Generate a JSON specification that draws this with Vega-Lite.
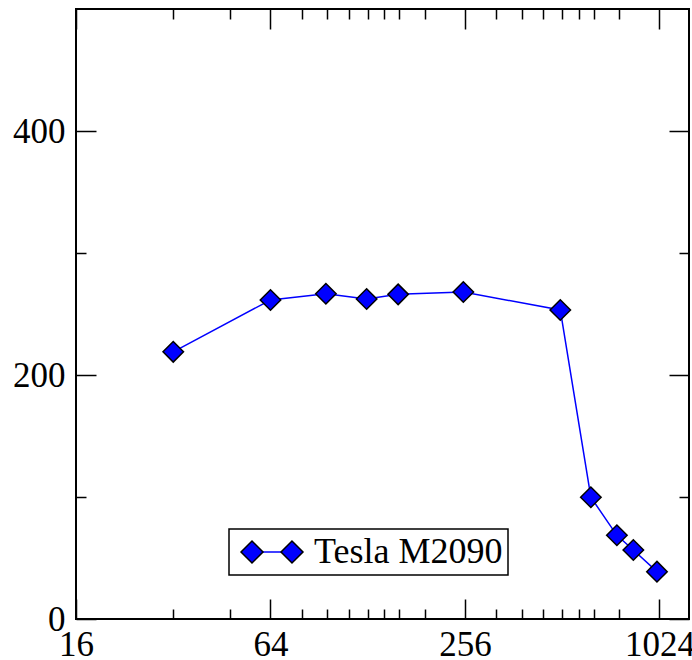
{
  "$schema": "https://vega.github.io/schema/vega-lite/v6.json",
  "width": 613,
  "height": 610,
  "autosize": {"type": "none"},
  "padding": {"left": 76, "top": 9, "right": 3, "bottom": 41},
  "background": "white",
  "config": {
    "view": {"stroke": "black", "strokeWidth": 2},
    "axis": {"domain": false, "grid": false, "labelFont": "Liberation Serif", "labelFontSize": 35, "labelColor": "black", "tickColor": "black", "tickWidth": 1.5, "title": null, "labelFlush": false}
  },
  "data": {
    "values": [
      {"n": 32, "v": 219, "s": "Tesla M2090"},
      {"n": 64, "v": 261.5, "s": "Tesla M2090"},
      {"n": 95, "v": 266.6, "s": "Tesla M2090"},
      {"n": 127, "v": 262.3, "s": "Tesla M2090"},
      {"n": 159, "v": 266.1, "s": "Tesla M2090"},
      {"n": 253, "v": 268, "s": "Tesla M2090"},
      {"n": 505, "v": 253.3, "s": "Tesla M2090"},
      {"n": 628, "v": 99.8, "s": "Tesla M2090"},
      {"n": 756, "v": 68.6, "s": "Tesla M2090"},
      {"n": 850, "v": 56.6, "s": "Tesla M2090"},
      {"n": 1006, "v": 38.8, "s": "Tesla M2090"}
    ]
  },
  "layer": [
    {
      "mark": {"type": "line", "strokeWidth": 1.5},
      "encoding": {
        "x": {"field": "n", "type": "quantitative", "scale": {"type": "log", "base": 2, "domain": [16, 1264], "nice": false},
              "axis": {"orient": "bottom", "values": [16, 64, 256, 1024], "format": "d", "tickSize": -20, "labelPadding": 28}},
        "y": {"field": "v", "type": "quantitative", "scale": {"domain": [0, 500], "nice": false},
              "axis": {"orient": "left", "values": [0, 200, 400], "format": "d", "tickSize": -20, "labelPadding": 31}},
        "stroke": {"field": "s", "type": "nominal", "scale": {"range": ["#0000ff"]},
                   "legend": {"title": null, "orient": "none", "legendX": 153, "legendY": 520,
                              "symbolType": "stroke", "symbolSize": 3844, "clipHeight": 36, "symbolStrokeColor": "#0000ff", "symbolStrokeWidth": 1.5,
                              "symbolOffset": 6, "labelOffset": 10, "labelFont": "Liberation Serif", "labelFontSize": 36, "labelColor": "black", "labelLimit": 400,
                              "strokeColor": "black", "padding": 5, "cornerRadius": 0,
                              "encode": {"legend": {"update": {"strokeWidth": {"value": 1.5}}}}}}
      }
    },
    {
      "mark": {"type": "point", "shape": "diamond", "filled": true, "size": 420, "stroke": "black", "strokeWidth": 1.5, "opacity": 1},
      "encoding": {
        "x": {"field": "n", "type": "quantitative",
              "axis": {"orient": "bottom", "values": [32, 48, 80, 96, 112, 128, 144, 160, 192, 320, 384, 448, 512, 576, 640, 768], "tickSize": -10, "labels": false}},
        "y": {"field": "v", "type": "quantitative",
              "axis": {"orient": "left", "values": [100, 300], "tickSize": -10, "labels": false}},
        "fill": {"field": "s", "type": "nominal", "scale": {"range": ["#0000ff"]},
                 "legend": {"title": null, "orient": "none", "legendX": 153, "legendY": 520,
                            "symbolType": "M-1,0L-0.645,-0.355L-0.29,0L-0.645,0.355Z M0.29,0L0.645,-0.355L1,0L0.645,0.355Z",
                            "symbolSize": 3844, "clipHeight": 36, "symbolStrokeColor": "black", "symbolStrokeWidth": 1.5, "symbolFillColor": "#0000ff",
                            "symbolOffset": 6, "labelOffset": 10, "labelFont": "Liberation Serif", "labelFontSize": 36, "labelOpacity": 0, "labelLimit": 400,
                            "padding": 5}}
      }
    },
    {
      "mark": {"type": "point", "opacity": 0},
      "encoding": {
        "x": {"field": "n", "type": "quantitative",
              "axis": {"orient": "top", "values": [16, 64, 256, 1024], "tickSize": -20, "labels": false}},
        "y": {"field": "v", "type": "quantitative",
              "axis": {"orient": "right", "values": [0, 200, 400], "tickSize": -20, "labels": false}}
      }
    },
    {
      "mark": {"type": "point", "opacity": 0},
      "encoding": {
        "x": {"field": "n", "type": "quantitative",
              "axis": {"orient": "top", "values": [32, 48, 80, 96, 112, 128, 144, 160, 192, 320, 384, 448, 512, 576, 640, 768], "tickSize": -10, "labels": false}},
        "y": {"field": "v", "type": "quantitative",
              "axis": {"orient": "right", "values": [100, 300], "tickSize": -10, "labels": false}}
      }
    }
  ],
  "resolve": {"axis": {"x": "independent", "y": "independent"}}
}
